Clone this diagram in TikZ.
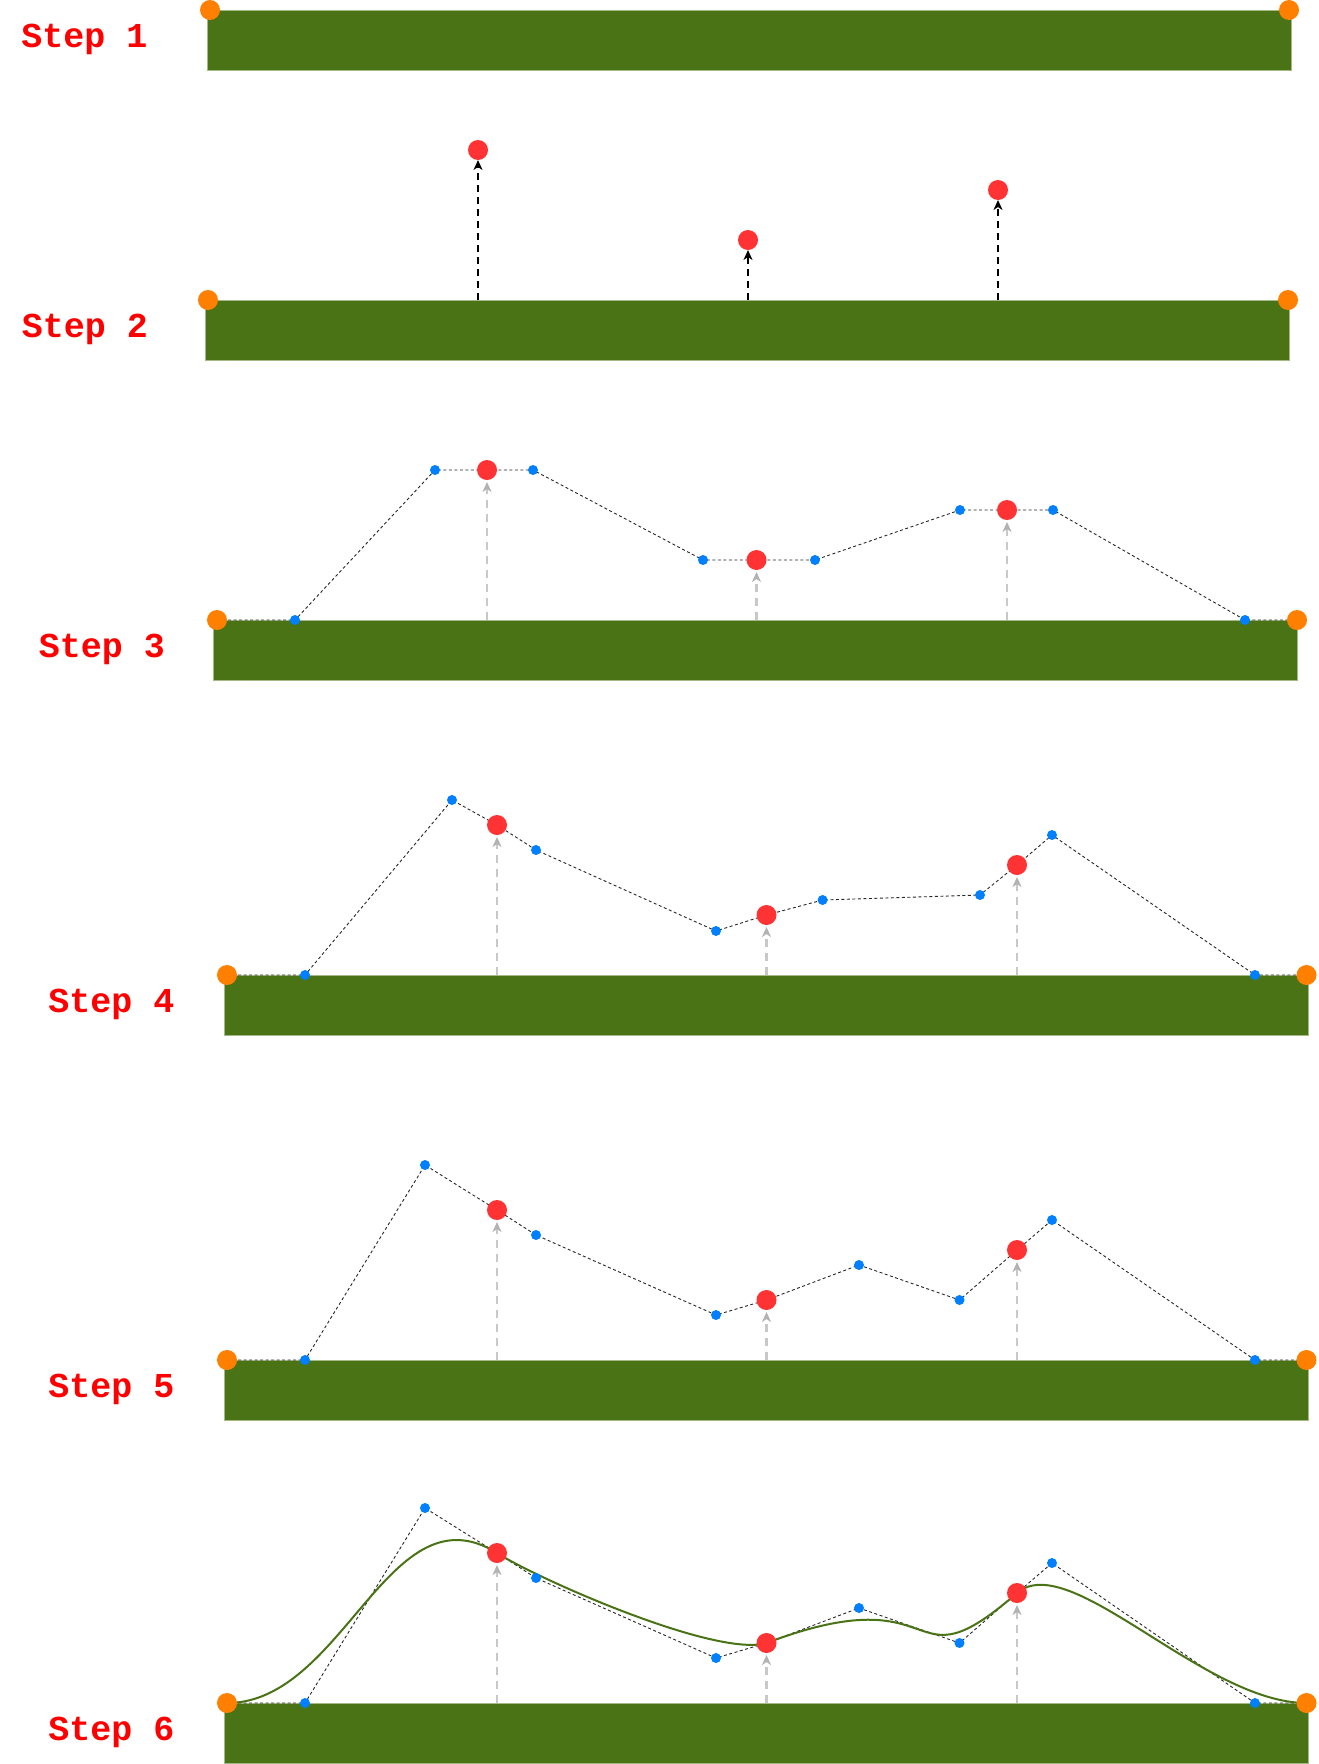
\documentclass[tikz,border=0pt]{standalone}
\usepackage{fontspec}
\newfontfamily\labelfont{Liberation Mono}
\usetikzlibrary{arrows.meta,calc}
\pgfdeclarelayer{bglayer}
\pgfdeclarelayer{linelayer}
\pgfsetlayers{bglayer,linelayer,main}
\definecolor{barg}{RGB}{74,115,22}
\definecolor{baredge}{RGB}{165,185,135}
\definecolor{dotorange}{RGB}{255,128,0}
\definecolor{dotred}{RGB}{255,51,51}
\definecolor{dotblue}{RGB}{0,128,255}
\definecolor{labelred}{RGB}{255,0,0}
\definecolor{garrowc}{RGB}{200,200,200}
\tikzset{
  bar/.style={rectangle, fill=barg, draw=baredge, line width=1pt, minimum width=1084pt, minimum height=60pt, anchor=north west, inner sep=0pt, outer sep=0pt},
  odot/.style={circle, fill=dotorange, minimum size=20pt, inner sep=0pt, outer sep=0pt},
  rdot/.style={circle, fill=dotred, minimum size=20pt, inner sep=0pt, outer sep=0pt},
  bdot/.style={circle, fill=dotblue, minimum size=10pt, inner sep=0pt, outer sep=0pt},
  poly/.style={line width=0.9pt, dash pattern=on 3pt off 2.5pt, black!85},
  karrow/.style={line width=2.2pt, black, dash pattern=on 7pt off 5pt, -{Stealth[length=10pt,width=9pt,inset=3pt]}},
  garrow/.style={line width=2.2pt, garrowc, dash pattern=on 8pt off 6pt, shorten >=2pt, -{Stealth[length=10pt,width=9pt,inset=3pt,color=gray!60]}},
  greencurve/.style={line width=2pt, barg},
  steplabel/.style={text=labelred, font={\labelfont\bfseries\fontsize{35pt}{40pt}\selectfont}, anchor=base, inner sep=0pt}
}
\newcommand\stepframe[1]{%
  \begin{pgfonlayer}{linelayer}
    \draw[poly] (oL#1.center) -- (b#11.center) -- (b#12.center) -- (r#11.center) -- (b#13.center) -- (b#14.center) -- (r#12.center) -- (b#15.center) -- (b#16.center) -- (r#13.center) -- (b#17.center) -- (b#18.center) -- (oR#1.center);
    \foreach \i in {1,2,3} {\draw[garrow] (r#1\i |- bar#1.north) -- (r#1\i);}
  \end{pgfonlayer}%
}
\begin{document}
\begin{tikzpicture}[x=1pt,y=-1pt]
\useasboundingbox (0,0) rectangle (1318,1764);

% ---------- bars ----------
\begin{pgfonlayer}{bglayer}
  \node[bar] (bar1) at (207,10) {};
  \node[bar] (bar2) at (205,300) {};
  \node[bar] (bar3) at (213,620) {};
  \node[bar] (bar4) at (224,975) {};
  \node[bar] (bar5) at (224,1360) {};
  \node[bar] (bar6) at (224,1703) {};
\end{pgfonlayer}

% ---------- labels ----------
\node[steplabel] (lab1) at (84.5,47.5) {Step 1};
\node[steplabel] (lab2) at (85,337.5) {Step 2};
\node[steplabel] (lab3) at (102,657.5) {Step 3};
\node[steplabel] (lab4) at (111.5,1012.5) {Step 4};
\node[steplabel] (lab5) at (111.5,1397.5) {Step 5};
\node[steplabel] (lab6) at (111.5,1740.5) {Step 6};

% ---------- step 1 ----------
\node[odot] (oL1) at (210,10) {};
\node[odot] (oR1) at (1289,10) {};

% ---------- step 2 ----------
\node[odot] (oL2) at (208,300) {};
\node[odot] (oR2) at (1288,300) {};
\node[rdot] (r21) at (478,150) {};
\node[rdot] (r22) at (748,240) {};
\node[rdot] (r23) at (998,190) {};
\begin{pgfonlayer}{linelayer}
  \foreach \i in {1,2,3} {\draw[karrow] (r2\i |- bar2.north) -- (r2\i);}
\end{pgfonlayer}

% ---------- step 3 ----------
\node[odot] (oL3) at (217,620) {};
\node[odot] (oR3) at (1297,620) {};
\node[bdot] (b31) at (295,620) {};
\node[bdot] (b32) at (435,470) {};
\node[rdot] (r31) at (487,470) {};
\node[bdot] (b33) at (533,470) {};
\node[bdot] (b34) at (703,560) {};
\node[rdot] (r32) at (756.5,560) {};
\node[bdot] (b35) at (815,560) {};
\node[bdot] (b36) at (960,510) {};
\node[rdot] (r33) at (1007,510) {};
\node[bdot] (b37) at (1053,510) {};
\node[bdot] (b38) at (1245,620) {};
\stepframe{3}

% ---------- step 4 ----------
\node[odot] (oL4) at (227,975) {};
\node[odot] (oR4) at (1306.5,975) {};
\node[bdot] (b41) at (305,975) {};
\node[bdot] (b42) at (452,800) {};
\node[rdot] (r41) at (497,825) {};
\node[bdot] (b43) at (536,850) {};
\node[bdot] (b44) at (716,931) {};
\node[rdot] (r42) at (766.5,915) {};
\node[bdot] (b45) at (822.6,900) {};
\node[bdot] (b46) at (980,895) {};
\node[rdot] (r43) at (1017,865) {};
\node[bdot] (b47) at (1052,835) {};
\node[bdot] (b48) at (1255,975) {};
\stepframe{4}

% ---------- step 5 ----------
\node[odot] (oL5) at (227,1360) {};
\node[odot] (oR5) at (1306.5,1360) {};
\node[bdot] (b51) at (305,1360) {};
\node[bdot] (b52) at (425,1165) {};
\node[rdot] (r51) at (497,1210) {};
\node[bdot] (b53) at (536,1235) {};
\node[bdot] (b54) at (716,1315) {};
\node[rdot] (r52) at (766.5,1300) {};
\node[bdot] (b55) at (859,1265) {};
\node[bdot] (b56) at (959.5,1300) {};
\node[rdot] (r53) at (1017,1250) {};
\node[bdot] (b57) at (1052,1220) {};
\node[bdot] (b58) at (1255,1360) {};
\stepframe{5}

% ---------- step 6 ----------
\node[odot] (oL6) at (227,1703) {};
\node[odot] (oR6) at (1306.5,1703) {};
\node[bdot] (b61) at (305,1703) {};
\node[bdot] (b62) at (425,1508) {};
\node[rdot] (r61) at (497,1553) {};
\node[bdot] (b63) at (536,1578) {};
\node[bdot] (b64) at (716,1658) {};
\node[rdot] (r62) at (766.5,1643) {};
\node[bdot] (b65) at (859,1608) {};
\node[bdot] (b66) at (959.5,1643) {};
\node[rdot] (r63) at (1017,1593) {};
\node[bdot] (b67) at (1052,1563) {};
\node[bdot] (b68) at (1255,1703) {};
\stepframe{6}
\begin{pgfonlayer}{linelayer}
  \draw[greencurve] (oL6.center)
    .. controls ($(oL6.center)!1.5!(b61.center)$) and ($(r61.center)!1.5!(b62.center)$) .. (r61.center)
    .. controls ($(r61.center)!1!(b63.center)$) and ($(r62.center)!1!(b64.center)$) .. (r62.center)
    .. controls ($(r62.center)!2!(b65.center)$) and ($(r63.center)!2!(b66.center)$) .. (r63.center)
    .. controls ($(r63.center)!1.5!(b67.center)$) and ($(oR6.center)!2!(b68.center)$) .. (oR6.center);
\end{pgfonlayer}
\end{tikzpicture}
\end{document}
